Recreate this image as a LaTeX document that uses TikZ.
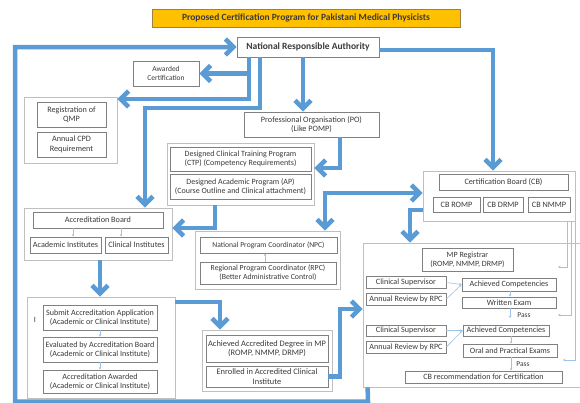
\documentclass[tikz,border=0pt]{standalone}
\usepackage{fontspec}
\setmainfont{Carlito}
\usetikzlibrary{arrows.meta,calc}
\definecolor{flowblue}{HTML}{5B9BD5}
\definecolor{thinblue}{HTML}{9DC3E6}
\definecolor{boxline}{HTML}{808080}
\definecolor{groupline}{HTML}{BFBFBF}
\definecolor{txt}{HTML}{3A3A3A}
\definecolor{titlefill}{HTML}{FFC000}
\definecolor{titleline}{HTML}{A08040}

\begin{document}
\begin{tikzpicture}[x=1pt,y=-1pt,
  every node/.style={font=\fontsize{8.2}{9.4}\selectfont, text=txt, align=center, inner sep=0pt},
  fs/.style 2 args={font=\fontsize{#1}{#2}\selectfont},
  ibox/.style={draw=boxline, line width=0.8pt, fill=white},
  gbox/.style={draw=groupline, line width=0.8pt, fill=white},
  headbox/.style={font=\fontsize{9.5}{10}\selectfont\bfseries},
  >={Straight Barb[length=8pt,width=16pt]},
  flow/.style={draw=flowblue, line width=4.5pt, ->},
  dflow/.style={draw=flowblue, line width=4.5pt, <->},
  tflow/.style={draw=thinblue, line width=0.6pt, -{Stealth[length=2.5pt,width=2.5pt]}},
  passlbl/.style={fs={7.5}{8}}]

\useasboundingbox (0,0) rectangle (580,402);

% ---- title and authority ----
\node[headbox, fill=titlefill, draw=titleline, line width=0.6pt,
      minimum width=308, minimum height=18] (title) at (306,18)
  {Proposed Certification Program for Pakistani Medical Physicists};
\node[ibox, headbox, minimum width=142, minimum height=20] (nra) at (308,47)
  {National Responsible Authority};

% ---- group frames ----
\node[gbox, minimum width=93,  minimum height=66]  (regGroup) at (70.5,130) {};
\node[gbox, minimum width=147, minimum height=62]  (desGroup) at (240.5,174) {};
\node[gbox, minimum width=148, minimum height=52]  (accGroup) at (98,234) {};
\node[gbox, minimum width=145, minimum height=58]  (npcGroup) at (267.5,260) {};
\node[gbox, minimum width=152, minimum height=50]  (cbGroup)  at (499,196) {};
\node[gbox, minimum width=220, minimum height=144] (mpGroup)  at (473,315) {};
\node[gbox, minimum width=148, minimum height=101] (subGroup) at (101,347.5) {};
\node[gbox, minimum width=130, minimum height=61]  (degGroup) at (267,360.5) {};

% ---- boxes ----
\node[ibox, fs={7.5}{8.8}, minimum width=66, minimum height=25] (awarded) at (166,73.5) {Awarded\\Certification};
\node[ibox, minimum width=69,  minimum height=25] (reg) at (71.5,114.5) {Registration of\\QMP};
\node[ibox, minimum width=69,  minimum height=25] (cpd) at (71.5,144.5) {Annual CPD\\Requirement};
\node[ibox, minimum width=135, minimum height=25] (po)  at (311.5,124.5) {Professional Organisation (PO)\\(Like POMP)};
\node[ibox, fs={8}{9.3}, minimum width=141, minimum height=24] (ctp) at (240.5,159) {Designed Clinical Training Program\\(CTP) (Competency Requirements)};
\node[ibox, fs={8}{9.3}, minimum width=141, minimum height=25] (ap)  at (240.5,186.5) {Designed Academic Program (AP)\\(Course Outline and Clinical attachment)};
\node[ibox, minimum width=130, minimum height=16] (accBoard) at (98,220) {Accreditation Board};
\node[ibox, minimum width=71,  minimum height=16] (acad) at (65.5,245) {Academic Institutes};
\node[ibox, minimum width=63,  minimum height=16] (clin) at (136.5,245) {Clinical Institutes};
\node[ibox, fs={7.6}{8.8}, minimum width=137, minimum height=16] (npc) at (268.5,245) {National Program Coordinator (NPC)};
\node[ibox, fs={7.8}{9}, minimum width=136, minimum height=22] (rpc) at (268,273) {Regional Program Coordinator (RPC)\\(Better Administrative Control)};
\node[ibox, minimum width=129, minimum height=16] (cb) at (503.5,182) {Certification Board (CB)};
\node[ibox, minimum width=47,  minimum height=15] (cbromp) at (456.5,204.5) {CB ROMP};
\node[ibox, minimum width=40,  minimum height=15] (cbdrmp) at (503,204.5) {CB DRMP};
\node[ibox, minimum width=42,  minimum height=15] (cbnmmp) at (549,204.5) {CB NMMP};

\begin{scope}[every node/.append style={fs={8.1}{9.2}}]
\node[ibox, fs={8}{9.3}, minimum width=91, minimum height=23] (mpreg) at (467.5,259.5) {MP Registrar\\(ROMP, NMMP, DRMP)};
\node[ibox, minimum width=80,  minimum height=12] (cs1) at (406,282.5) {Clinical Supervisor};
\node[ibox, minimum width=80,  minimum height=12] (ar1) at (406,299) {Annual Review by RPC};
\node[ibox, minimum width=94,  minimum height=13] (ac1) at (509,284.5) {Achieved Competencies};
\node[ibox, minimum width=94,  minimum height=11] (we)  at (509,302.5) {Written Exam};
\node[passlbl] (pass1) at (524,315) {Pass};
\node[ibox, minimum width=80,  minimum height=11] (cs2) at (406,330.5) {Clinical Supervisor};
\node[ibox, minimum width=80,  minimum height=12] (ar2) at (406,347) {Annual Review by RPC};
\node[ibox, minimum width=86,  minimum height=11] (ac2) at (506,330.5) {Achieved Competencies};
\node[ibox, minimum width=94,  minimum height=13] (oral) at (510,350.5) {Oral and Practical Exams};
\node[passlbl] (pass2) at (523,364) {Pass};
\node[ibox, minimum width=157, minimum height=12] (cbrec) at (483.5,377) {CB recommendation for Certification};
\end{scope}

\begin{scope}[every node/.append style={fs={8.1}{9.3}}]
\node[ibox, minimum width=114, minimum height=25] (sub)  at (100,317.5) {Submit Accreditation Application\\(Academic or Clinical Institute)};
\node[ibox, minimum width=114, minimum height=25] (eval) at (100,349.5) {Evaluated by Accreditation Board\\(Academic or Clinical Institute)};
\node[ibox, minimum width=114, minimum height=23] (accAw) at (100,381.5) {Accreditation Awarded\\(Academic or Clinical Institute)};
\node (cursor) at (35,320) {I};
\end{scope}
\begin{scope}[every node/.append style={fs={8.4}{9.6}}]
\node[ibox, minimum width=122, minimum height=27] (deg) at (267,348.5) {Achieved Accredited Degree in MP\\(ROMP, NMMP, DRMP)};
\node[ibox, minimum width=122, minimum height=21] (enr) at (267,376.5) {Enrolled in Accredited Clinical\\Institute};
\end{scope}

% ---- thin connectors inside the groups ----
\draw[tflow] (73,0 |- accBoard.south) -- (73,0 |- acad.north);
\draw[tflow] (121,0 |- accBoard.south) -- (121,0 |- clin.north);
\draw[tflow] (265,0 |- rpc.north) -- (265,0 |- npc.south);
\draw[tflow] (sub.south) -- (eval.north);
\draw[tflow] (eval.south) -- (accAw.north);
\draw[tflow] (cs1.east) -- (ac1.west);
\draw[tflow] (ar1.east) -- (ac1.west);
\draw[tflow] (510,0 |- ac1.south) -- (510,0 |- we.north);
\coordinate (p1) at (510,318);
\draw[tflow] (510,0 |- we.south) -- (p1);
\draw[tflow] (cs2.east) -- (ac2.west);
\draw[tflow] (ar2.east) -- (ac2.west);
\draw[tflow] (511,0 |- ac2.south) -- (511,0 |- oral.north);
\draw[tflow] (511,0 |- oral.south) -- (511,0 |- cbrec.north);
\coordinate (r1) at (558,267);
\coordinate (r2) at (558,315);
\coordinate (r3) at (563,360);
\draw[tflow] (567,0 |- cbGroup.south) -- (567,267) -- (r1);
\draw[tflow] (571,0 |- cbGroup.south) -- (571,315) -- (r2);
\draw[tflow] (575,0 |- cbGroup.south) -- (575,360) -- (r3);

% ---- main flow ----
\draw[flow] ($(mpGroup.south west)+(5,0)$) -- (368,401.5) -- (15,401.5) -- (15,0 |- nra.west) -- (nra.west);
\draw[flow] (249,0 |- nra.south) -- (249,99) -- (regGroup.east |- 0,99);
\draw[flow] (249,73.5) -- (awarded.east);
\draw[flow] (260,0 |- nra.south) -- (260,108) -- (145,108) -- (145,0 |- accGroup.north);
\draw[flow] (303,0 |- nra.south) -- (303,0 |- po.north);
\draw[flow] (nra.east |- 0,50) -- (493,50) -- (493,0 |- cbGroup.north);
\draw[flow] (340,0 |- po.south) -- (340,168) -- (desGroup.east |- 0,168);
\draw[flow] (215,0 |- desGroup.south) -- (215,228) -- (accGroup.east |- 0,228);
\draw[dflow] (325,0 |- npcGroup.north) -- (325,193) -- (cbGroup.west |- 0,193);
\draw[flow] (cbGroup.west |- 0,210) -- (410,210) -- (410,0 |- mpGroup.north);
\draw[flow] (100,0 |- accGroup.south) -- (100,0 |- subGroup.north);
\draw[flow] (subGroup.east |- 0,302) -- (220,302) -- (220,0 |- degGroup.north);
\draw[flow] (enr.east) -- (340,0 |- enr.east) -- (340,309) -- (mpGroup.west |- 0,309);

\end{tikzpicture}
\end{document}
